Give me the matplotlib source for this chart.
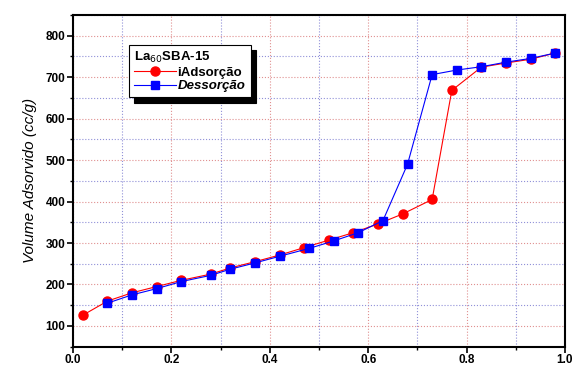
import matplotlib
matplotlib.use("Agg")
import matplotlib.pyplot as plt
from matplotlib.ticker import MultipleLocator, FormatStrFormatter

plt.rcParams['font.family'] = ['Liberation Sans', 'DejaVu Sans']

# adsorption branch (red circles)
ads_p = [0.02, 0.07, 0.12, 0.17, 0.22, 0.28, 0.32, 0.37, 0.42, 0.47, 0.52, 0.57,
         0.62, 0.67, 0.73, 0.77, 0.83, 0.88, 0.93, 0.98]
ads_v = [126, 160, 180, 195, 210, 225, 240, 255, 271, 289, 307, 325,
         346, 370, 405, 668, 724, 734, 743, 758]

# desorption branch (blue squares)
des_p = [0.98, 0.93, 0.88, 0.83, 0.78, 0.73, 0.68, 0.63, 0.58, 0.53, 0.48,
         0.42, 0.37, 0.32, 0.28, 0.22, 0.17, 0.12, 0.07]
des_v = [758, 745, 736, 725, 717, 706, 490, 354, 325, 305, 287,
         268, 252, 237, 222, 207, 190, 175, 155]

fig = plt.figure(figsize=(5.73, 3.72), dpi=100)
ax = fig.add_axes([0.1274, 0.068, 0.8586, 0.892])

ax.plot(ads_p, ads_v, '-o', color='red', lw=0.8, ms=6.5, mec='red',
        label='iAdsorção', zorder=3)
ax.plot(des_p, des_v, '-s', color='blue', lw=0.8, ms=6, mec='blue',
        label='Dessorção', zorder=4)

ax.set_xlim(0, 1.0)
ax.set_ylim(50, 850)
ax.xaxis.set_major_locator(MultipleLocator(0.2))
ax.xaxis.set_minor_locator(MultipleLocator(0.1))
ax.xaxis.set_major_formatter(FormatStrFormatter('%.1f'))
ax.yaxis.set_major_locator(MultipleLocator(100))
ax.yaxis.set_minor_locator(MultipleLocator(50))
ax.set_yticks(range(100, 801, 100))

ax.grid(which='major', color='#e09090', ls=':', lw=0.8)
ax.grid(which='minor', color='#9090d8', ls=':', lw=0.8)
ax.set_axisbelow(True)

ax.tick_params(which='major', direction='out', length=4, width=1.2,
               labelsize=8.5, pad=1.5)
ax.tick_params(which='minor', direction='out', length=2.5, width=1.0)
for lab in ax.get_xticklabels() + ax.get_yticklabels():
    lab.set_fontweight('bold')
for sp in ax.spines.values():
    sp.set_linewidth(1.5)

ax.set_ylabel('Volume Adsorvido (cc/g)', fontsize=11, style='italic', labelpad=6)

leg = ax.legend(loc='upper left', bbox_to_anchor=(0.1, 0.93),
                title='La$_{60}$SBA-15', alignment='left', fontsize=9.5,
                title_fontproperties={'weight': 'bold', 'size': 9.5},
                frameon=True, fancybox=False, edgecolor='black',
                handlelength=3.2, handletextpad=0.1, borderpad=0.4,
                labelspacing=0.1,
                shadow={'color': 'black', 'alpha': 1, 'ox': 4, 'oy': -4})
leg.get_frame().set_linewidth(0.8)
texts = leg.get_texts()
texts[0].set_fontweight('bold')
texts[1].set_fontweight('bold')
texts[1].set_style('italic')

fig.savefig('out.png', dpi=100)
